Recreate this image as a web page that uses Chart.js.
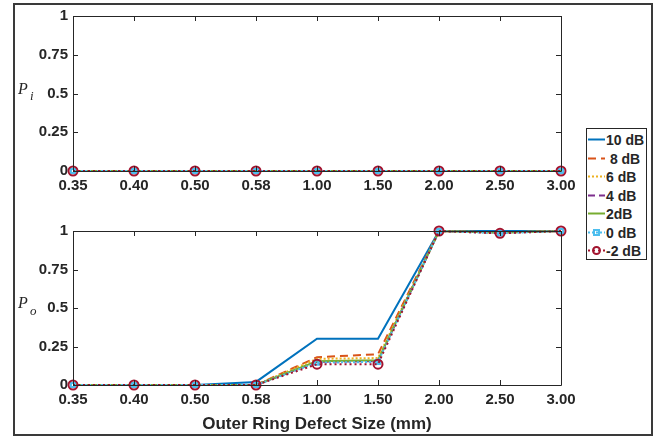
<!DOCTYPE html>
<html>
<head>
<meta charset="utf-8">
<script src="https://cdn.jsdelivr.net/npm/chart.js@4"></script>
<style>
body { margin: 0; background: #fff; width: 656px; height: 439px; overflow: hidden; font-family: "Liberation Sans", Arial, sans-serif; }
#frame { position: absolute; left: 13px; top: 3px; width: 636px; height: 429px; border: 2px solid #3a3a3a; }
#topWrap { position: absolute; left: 0; top: 0; width: 656px; height: 200px; }
#botWrap { position: absolute; left: 0; top: 200px; width: 656px; height: 239px; }
#legend { position: absolute; left: 586px; top: 128px; width: 59px; height: 130px; border: 1px solid #262626; background: #fff; }
.row { position: absolute; left: 0; height: 18px; width: 60px; font: bold 14px "Liberation Sans", Arial, sans-serif; color: #262626; }
.row svg { position: absolute; left: 1px; top: 1px; }
.row span { position: absolute; left: 19px; top: 0; line-height: 18px; white-space: pre; }
</style>
</head>
<body>
<div id="frame"></div>
<div id="topWrap"><canvas id="topChart"></canvas></div>
<div id="botWrap"><canvas id="botChart"></canvas></div>
<div id="legend"></div>
<script>
// data
const categories = ['0.35', '0.40', '0.50', '0.58', '1.00', '1.50', '2.00', '2.50', '3.00'];
const seriesNames = ['10 dB', '8 dB', '6 dB', '4 dB', '2dB', '0 dB', '-2 dB'];
const yTicks = [0, 0.25, 0.5, 0.75, 1];
const yTickLabels = ['0', '0.25', '0.5', '0.75', '1'];

// inner ring (top plot)
const pi10 = [0, 0, 0, 0, 0, 0, 0, 0, 0];
const pi8 = [0, 0, 0, 0, 0, 0, 0, 0, 0];
const pi6 = [0, 0, 0, 0, 0, 0, 0, 0, 0];
const pi4 = [0, 0, 0, 0, 0, 0, 0, 0, 0];
const pi2 = [0, 0, 0, 0, 0, 0, 0, 0, 0];
const pi0 = [0, 0, 0, 0, 0, 0, 0, 0, 0];
const piM2 = [0, 0, 0, 0, 0, 0, 0, 0, 0];

// outer ring (bottom plot)
const po10 = [0, 0, 0, 0.02, 0.30, 0.30, 1, 1, 1];
const po8 = [0, 0, 0, 0, 0.18, 0.20, 1, 0.99, 1];
const po6 = [0, 0, 0, 0, 0.17, 0.175, 1, 0.99, 1];
const po4 = [0, 0, 0, 0, 0.15, 0.155, 1, 0.99, 1];
const po2 = [0, 0, 0, 0, 0.155, 0.16, 1, 0.99, 1];
const po0 = [0, 0, 0, 0, 0.145, 0.15, 1, 0.985, 1];
const poM2 = [0, 0, 0, 0, 0.135, 0.135, 1, 0.985, 1];

const styles = [
  { color: '#0072BD', dash: [], point: false },
  { color: '#D95319', dash: [8, 5], point: false },
  { color: '#EDB120', dash: [2, 2], point: false },
  { color: '#7E2F8E', dash: [7, 4], point: false },
  { color: '#77AC30', dash: [], point: false },
  { color: '#4DBEEE', dash: [2, 2], point: 'rect' },
  { color: '#A2142F', dash: [2, 3], point: 'circle' }
];

const ink = '#262626';
const tickFont = { family: '"Liberation Sans", Arial, sans-serif', size: 15, weight: 'bold' };

function makeDatasets(arrays) {
  return arrays.map((vals, i) => {
    const s = styles[i];
    return {
      label: seriesNames[i],
      data: vals,
      borderColor: s.color,
      borderWidth: 2,
      borderDash: s.dash,
      backgroundColor: 'rgba(0,0,0,0)',
      pointStyle: s.point || 'circle',
      pointRadius: s.point === 'circle' ? 4.5 : (s.point === 'rect' ? 3 : 0),
      pointBorderWidth: 2,
      pointBorderColor: s.color,
      pointBackgroundColor: 'rgba(0,0,0,0)',
      tension: 0,
      clip: false,
      order: arrays.length - i
    };
  });
}

// box with inward ticks, plus the P label
function boxPlugin(sub, pOff, subOff) {
  return {
    id: 'box',
    afterDraw(chart) {
      const ctx = chart.ctx;
      const a = chart.chartArea;
      const x = chart.scales.x, y = chart.scales.y;
      ctx.save();
      ctx.strokeStyle = ink;
      ctx.lineWidth = 1;
      ctx.beginPath();
      ctx.rect(Math.round(a.left) + 0.5, Math.round(a.top) + 0.5, Math.round(a.right - a.left), Math.round(a.bottom - a.top));
      for (let i = 0; i < x.ticks.length; i++) {
        const px = Math.round(x.getPixelForTick(i)) + 0.5;
        ctx.moveTo(px, a.bottom); ctx.lineTo(px, a.bottom - 5);
        ctx.moveTo(px, a.top); ctx.lineTo(px, a.top + 5);
      }
      for (let i = 0; i < y.ticks.length; i++) {
        const py = Math.round(y.getPixelForTick(i)) + 0.5;
        ctx.moveTo(a.left, py); ctx.lineTo(a.left + 5, py);
        ctx.moveTo(a.right, py); ctx.lineTo(a.right - 5, py);
      }
      ctx.stroke();
      // y label
      const cy = y.getPixelForValue(0.5);
      ctx.fillStyle = ink;
      ctx.textBaseline = 'alphabetic';
      ctx.font = 'italic 16px "Liberation Serif", "Times New Roman", serif';
      ctx.fillText('P', 18, cy + pOff);
      ctx.font = 'italic 13px "Liberation Serif", "Times New Roman", serif';
      ctx.fillText(sub, 30, cy + subOff);
      ctx.restore();
    }
  };
}

function makeOptions(padTop, xHeight, showTitle) {
  return {
    responsive: false,
    animation: false,
    layout: { padding: { top: padTop, right: 95, left: 0, bottom: 0 } },
    plugins: { legend: { display: false }, tooltip: { enabled: false } },
    scales: {
      x: {
        type: 'category',
        offset: false,
        grid: { display: false, drawTicks: false },
        border: { display: false },
        ticks: { color: ink, font: tickFont, padding: 6, maxRotation: 0, autoSkip: false },
        title: {
          display: showTitle,
          text: 'Outer Ring Defect Size (mm)',
          color: ink,
          font: { family: '"Liberation Sans", Arial, sans-serif', size: 17, weight: 'bold' },
          padding: { top: 0, bottom: 4 }
        },
        afterFit(scale) { scale.height = xHeight; scale.paddingLeft = 0; scale.paddingRight = 0; }
      },
      y: {
        min: 0,
        max: 1,
        grid: { display: false, drawTicks: false },
        border: { display: false },
        afterBuildTicks(scale) { scale.ticks = yTicks.map(v => ({ value: v })); },
        ticks: {
          color: ink, font: tickFont, padding: 5,
          callback: (v) => yTickLabels[yTicks.indexOf(v)]
        },
        afterFit(scale) { scale.width = 73; scale.paddingTop = 0; scale.paddingBottom = 0; }
      }
    }
  };
}

const topCanvas = document.getElementById('topChart');
topCanvas.width = 656; topCanvas.height = 200;
new Chart(topCanvas, {
  type: 'line',
  data: { labels: categories, datasets: makeDatasets([pi10, pi8, pi6, pi4, pi2, pi0, piM2]) },
  options: makeOptions(16, 29, false),
  plugins: [boxPlugin('i', 0.5, 6.5)]
});

const botCanvas = document.getElementById('botChart');
botCanvas.width = 656; botCanvas.height = 239;
new Chart(botCanvas, {
  type: 'line',
  data: { labels: categories, datasets: makeDatasets([po10, po8, po6, po4, po2, po0, poM2]) },
  options: makeOptions(31, 54, true),
  plugins: [boxPlugin('o', 0, 7)]
});

// legend
const legend = document.getElementById('legend');
seriesNames.forEach((name, i) => {
  const s = styles[i];
  const row = document.createElement('div');
  row.className = 'row';
  row.style.top = (2 + i * 18.5) + 'px';
  let marker = '';
  if (s.point === 'rect') marker = `<rect x="6" y="5" width="5" height="5" fill="none" stroke="${s.color}" stroke-width="2"/>`;
  if (s.point === 'circle') marker = `<circle cx="8.5" cy="7.5" r="3.5" fill="none" stroke="${s.color}" stroke-width="2"/>`;
  row.innerHTML = `<svg width="17" height="16"><line x1="0" y1="7.5" x2="17" y2="7.5" stroke="${s.color}" stroke-width="2" stroke-dasharray="${s.dash.length ? s.dash.join(',') : 'none'}"/>${marker}</svg><span>${name === '8 dB' ? ' 8 dB' : name}</span>`;
  legend.appendChild(row);
});
</script>
</body>
</html>
